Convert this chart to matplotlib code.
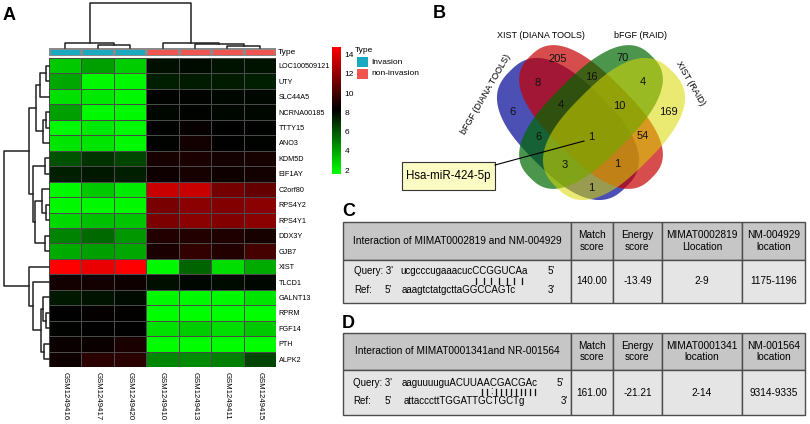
import numpy as np
import matplotlib
matplotlib.use('Agg')
import matplotlib.pyplot as plt
from matplotlib.colors import LinearSegmentedColormap, ListedColormap
from matplotlib.patches import Polygon, Rectangle

plt.rcParams['font.family'] = ['Liberation Sans', 'DejaVu Sans']

W, H = 810, 424

# ---- panel A data
genes = ['LOC100509121', 'UTY', 'SLC44A5', 'NCRNA00185', 'TTTY15', 'ANO3', 'KDM5D',
         'EIF1AY', 'C2orf80', 'RPS4Y2', 'RPS4Y1', 'DDX3Y', 'GJB7', 'XIST', 'TLCD1',
         'GALNT13', 'RPRM', 'FGF14', 'PTH', 'ALPK2']
samples = ['GSM1249416', 'GSM1249417', 'GSM1249420', 'GSM1249410',
           'GSM1249413', 'GSM1249411', 'GSM1249415']
sample_type = [0, 0, 0, 1, 1, 1, 1]
type_names = ['Invasion', 'non-invasion']
expr = [
    [3.0, 4.1, 2.9, 7.8, 7.9, 7.7, 7.7],
    [3.9, 1.8, 1.8, 7.4, 7.5, 7.5, 7.4],
    [2.4, 2.2, 1.8, 8.1, 8.1, 8.0, 8.0],
    [4.1, 1.8, 1.8, 8.0, 8.1, 8.0, 8.0],
    [1.8, 2.2, 1.8, 8.1, 8.4, 8.2, 8.1],
    [2.3, 2.3, 1.8, 8.1, 8.7, 8.2, 8.1],
    [6.1, 6.9, 6.4, 8.8, 8.9, 8.7, 8.8],
    [7.4, 7.6, 7.4, 8.6, 8.8, 8.6, 8.7],
    [1.8, 3.0, 2.2, 13.4, 13.4, 11.2, 10.8],
    [1.8, 1.8, 1.8, 11.3, 11.8, 11.6, 11.8],
    [2.6, 3.2, 3.1, 11.4, 11.8, 11.6, 11.8],
    [4.8, 5.5, 4.3, 9.1, 9.1, 9.0, 8.8],
    [3.8, 4.1, 3.9, 8.9, 9.5, 9.1, 10.0],
    [14.8, 14.2, 14.8, 1.8, 5.6, 2.5, 3.8],
    [8.7, 8.7, 8.6, 7.8, 8.0, 7.9, 8.0],
    [7.6, 7.7, 7.9, 1.8, 1.8, 1.8, 2.3],
    [8.2, 8.35, 8.3, 1.7, 1.7, 1.7, 1.7],
    [8.1, 8.15, 8.2, 2.4, 2.9, 2.5, 3.0],
    [8.5, 8.5, 8.9, 1.7, 1.7, 1.7, 1.7],
    [8.6, 9.3, 9.3, 4.7, 4.6, 4.9, 6.4],
]
vmin, vmax = 1.6, 14.8
# dendrograms: (height, left, right), leaves are indices
col_tree = (45, (5, 0, (3.5, 1, 2)), (5, 3, (4, 4, (2.3, 5, 6))))
row_tree = (45,
            (20, (13, (9, (3, 0, 1), 2), (6, (3, 3, 4), 5)),
             (16, (4, 6, 7), (14, (7, 8, (3, 9, 10)), (4, 11, 12)))),
            (20, 13, (16, 14, (8, (6, 15, (3, 16, 17)), (5, 18, 19)))))

# ---- panel B data
venn_names = ['bFGF (DIANA TOOLS)', 'XIST (DIANA TOOLS)', 'bFGF (RAID)', 'XIST (RAID)']
venn_counts = [6, 205, 70, 169, 8, 16, 4, 4, 10, 6, 1, 54, 3, 1, 1]
venn_pos = [(513, 112), (558, 59), (623, 58), (668, 112), (538, 83), (591, 77), (643, 82),
            (561, 105), (619, 106), (539, 137), (591, 137), (643, 136), (565, 165),
            (617, 164), (591, 188)]
mirna = 'Hsa-miR-424-5p'

# ---- panels C / D data
c_head = ['Interaction of MIMAT0002819 and NM-004929', 'Match\nscore', 'Energy\nscore',
          'MIMAT0002819\nLlocation', 'NM-004929\nlocation']
c_vals = ['140.00', '-13.49', '2-9', '1175-1196']
c_query = 'ucgcccugaaacucCCGGUCAa'
c_ref = 'aaagtctatgcttaGGCCAGTc'
c_pairs = '|||||||'
d_head = ['Interaction of MIMAT0001341and NR-001564', 'Match\nscore', 'Energy\nscore',
          'MIMAT0001341\nlocation', 'NM-001564\nlocation']
d_vals = ['161.00', '-21.21', '2-14', '9314-9335']
d_query = 'aaguuuuguACUUAACGACGAc'
d_ref = 'attacccttTGGATTGCTGCTg'
d_pairs = '||:|||||||||'


def fbox(x0, y0, x1, y1):
    return [x0 / W, 1 - y1 / H, (x1 - x0) / W, (y1 - y0) / H]


def draw_tree(ax, node, top):
    if isinstance(node, int):
        return node + 0.5, 0
    h, l, r = node
    pl, hl = draw_tree(ax, l, top)
    pr, hr = draw_tree(ax, r, top)
    if top:
        ax.plot([pl, pl, pr, pr], [hl, h, h, hr], color='#222222', lw=1.1, clip_on=False)
    else:
        ax.plot([hl, h, h, hr], [pl, pl, pr, pr], color='#222222', lw=1.1, clip_on=False)
    return (pl + pr) / 2, h


def superellipse(cx, cy, a, b, ang, n=2.6):
    t = np.linspace(0, 2 * np.pi, 300)
    u = a * np.sign(np.cos(t)) * np.abs(np.cos(t)) ** (2 / n)
    v = b * np.sign(np.sin(t)) * np.abs(np.sin(t)) ** (2 / n)
    c, s = np.cos(np.radians(ang)), np.sin(np.radians(ang))
    return np.column_stack([cx + u * c - v * s, cy + u * s + v * c])


fig = plt.figure(figsize=(W / 100, H / 100), dpi=100)
ov = fig.add_axes([0, 0, 1, 1])
ov.set_xlim(0, W)
ov.set_ylim(H, 0)
ov.axis('off')

gbr = LinearSegmentedColormap.from_list('gbr', ['#00ff00', '#000000', '#ff0000'])
type_colors = ['#1aa9bf', '#f0564f']

# heatmap
hm = fig.add_axes(fbox(49, 58, 276, 367))
hm.pcolormesh(np.array(expr), cmap=gbr, vmin=vmin, vmax=vmax,
              edgecolors='#4a4a4a', linewidth=0.6)
hm.set_xlim(0, 7)
hm.set_ylim(20, 0)
hm.set_xticks(np.arange(7) + 0.5)
hm.set_xticklabels(samples, rotation=270, fontsize=5.6)
hm.set_yticks(np.arange(20) + 0.5)
hm.set_yticklabels(genes, fontsize=5.2)
hm.yaxis.tick_right()
hm.tick_params(axis='y', length=0, pad=2)
hm.tick_params(axis='x', length=0, pad=3.5)
for s in hm.spines.values():
    s.set_visible(False)

an = fig.add_axes(fbox(49, 48, 276, 56))
an.pcolormesh(np.array([sample_type]), cmap=ListedColormap(type_colors), vmin=0, vmax=1,
              edgecolors='#8a8a8a', linewidth=0.8)
an.axis('off')
ov.text(278, 52, 'Type', fontsize=6, va='center', ha='left')

cd = fig.add_axes(fbox(49, 3, 276, 48))
cd.set_xlim(0, 7)
cd.set_ylim(0, 45)
cd.axis('off')
draw_tree(cd, col_tree, True)

rd = fig.add_axes(fbox(4, 58, 49, 367))
rd.set_xlim(45, 0)
rd.set_ylim(20, 0)
rd.axis('off')
draw_tree(rd, row_tree, False)

cb = fig.add_axes(fbox(332, 47, 341, 174))
cb.imshow(np.linspace(vmin, vmax, 300).reshape(-1, 1), cmap=gbr, aspect='auto',
          origin='lower', extent=[0, 1, vmin, vmax])
cb.set_xticks([])
cb.yaxis.tick_right()
cb.set_yticks(range(2, 15, 2))
cb.tick_params(length=0, labelsize=6, pad=2.5)
for s in cb.spines.values():
    s.set_visible(False)

ov.text(355, 51, 'Type', fontsize=6, va='center')
for i, name in enumerate(type_names):
    ov.add_patch(Rectangle((357, 57 + 11.5 * i), 11, 10, facecolor=type_colors[i],
                           edgecolor='none'))
    ov.text(371, 62 + 11.5 * i, name, fontsize=6, va='center')

# venn
shapes = [(568, 129, 82, 46, 45, '#000594', 0.7),
          (591, 117, 86, 42, 45, '#c60000', 0.7),
          (591, 117, 86, 42, -45, '#006900', 0.7),
          (614, 129, 82, 46, -45, '#dada00', 0.55)]
for cx, cy, a, b, ang, c, al in shapes:
    ov.add_patch(Polygon(superellipse(cx, cy, a, b, ang), closed=True, facecolor=c,
                         edgecolor='none', alpha=al))
for n, (x, y) in zip(venn_counts, venn_pos):
    ov.text(x, y, str(n), fontsize=8, ha='center', va='center', color='#111111')
ov.text(486, 94, venn_names[0], fontsize=6.5, rotation=60, ha='center', va='center')
ov.text(541, 35, venn_names[1], fontsize=6.5, ha='center', va='center')
ov.text(640, 35, venn_names[2], fontsize=6.5, ha='center', va='center')
ov.text(690, 83, venn_names[3], fontsize=6.5, rotation=-60, ha='center', va='center')
ov.plot([495, 584], [165, 141], color='black', lw=0.8)
ov.add_patch(Rectangle((402, 162), 93, 28, facecolor='#fbfbc4', edgecolor='#333333', lw=0.8))
ov.text(448.5, 176.5, mirna, fontsize=8.3, ha='center', va='center')

# tables
xs = [343, 571, 613, 662, 742, 805]


def draw_table(y0, y1, y2, head, vals, query, ref, pairs, qx, px):
    for i in range(5):
        ov.add_patch(Rectangle((xs[i], y0), xs[i + 1] - xs[i], y1 - y0, facecolor='#c6c6c6',
                               edgecolor='#4d4d4d', lw=1))
        ov.add_patch(Rectangle((xs[i], y1), xs[i + 1] - xs[i], y2 - y1, facecolor='#e5e5e5',
                               edgecolor='#4d4d4d', lw=1))
        ov.text((xs[i] + xs[i + 1]) / 2, (y0 + y1) / 2, head[i], fontsize=7.3, ha='center',
                va='center', linespacing=1.15)
    for i, v in enumerate(vals):
        ov.text((xs[i + 1] + xs[i + 2]) / 2, (y1 + y2) / 2, v, fontsize=7.2, ha='center',
                va='center')
    ym = (y1 + y2) / 2
    ov.text(qx[0], ym - 10, "Query: 3'", fontsize=7, va='center')
    ov.text(qx[1], ym - 10, query, fontsize=7, va='center')
    ov.text(qx[2], ym - 10, "5'", fontsize=7, va='center')
    ov.text(qx[0], ym + 8.5, 'Ref:', fontsize=7, va='center')
    ov.text(385, ym + 8.5, "5'", fontsize=7, va='center')
    ov.text(qx[1] + 2, ym + 8.5, ref, fontsize=7, va='center')
    ov.text(qx[3], ym + 8.5, "3'", fontsize=7, va='center')
    for k, ch in enumerate(pairs):
        x = px[0] + (px[1] - px[0]) * k / (len(pairs) - 1)
        if ch == '|':
            ov.plot([x, x], [ym - 4, ym + 2.5], color='#111111', lw=0.9)
        else:
            ov.text(x, ym - 1, ch, fontsize=7, ha='center', va='center')


draw_table(222, 260, 303, c_head, c_vals, c_query, c_ref, c_pairs, [354, 400, 548, 548],
           [476, 522])
draw_table(333, 370, 415, d_head, d_vals, d_query, d_ref, d_pairs, [353, 402, 557, 561],
           [482, 535])

for lab, x, y in [('A', 3, 16), ('B', 433, 13), ('C', 342, 212), ('D', 342, 323)]:
    ov.text(x, y, lab, fontsize=13, fontweight='bold', va='center', ha='left')

fig.savefig('out.png', dpi=100)
